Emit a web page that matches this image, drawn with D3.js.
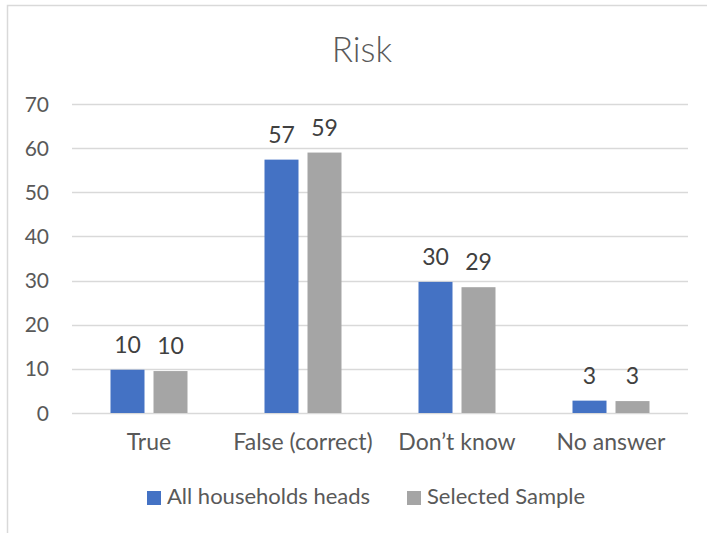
<!DOCTYPE html>
<html>
<head>
<meta charset="utf-8">
<script src="https://cdn.jsdelivr.net/npm/d3@7"></script>
<style>
  body { margin: 0; background: #fff; }
  text { font-family: Lato, "Open Sans", sans-serif; }
</style>
</head>
<body>
<script>
const categories = ["True", "False (correct)", "Don\u2019t know", "No answer"];
const seriesNames = ["All households heads", "Selected Sample"];
const allHeads = [9.8, 57.4, 29.7, 2.8];
const selectedSample = [9.5, 59.0, 28.5, 2.7];
const allHeadsLabels = ["10", "57", "30", "3"];
const selectedLabels = ["10", "59", "29", "3"];
const yTicks = [0, 10, 20, 30, 40, 50, 60, 70];
const colors = ["#4472C4", "#A5A5A5"];

const width = 707, height = 533;
const plot = { left: 72, right: 688, top: 104, bottom: 413 };

const svg = d3.select('body').append('svg')
    .attr('width', width)
    .attr('height', height);

// chart border (top and left visible)
svg.append('path')
    .attr('d', `M7.5 ${height} V5.5 H${width}`)
    .attr('fill', 'none')
    .attr('stroke', '#d9d9d9')
    .attr('stroke-width', 1.5);

svg.append('text')
    .attr('x', 362)
    .attr('y', 62)
    .attr('text-anchor', 'middle')
    .attr('font-size', 35)
    .attr('font-weight', 300)
    .attr('fill', '#595959')
    .text('Risk');

const y = d3.scaleLinear().domain([0, 70]).range([plot.bottom, plot.top]);
const x0 = d3.scaleBand().domain(categories).range([plot.left, plot.right]);
const groupW = 77;
const x1 = d3.scaleBand().domain(seriesNames)
    .range([(x0.bandwidth() - groupW) / 2, (x0.bandwidth() + groupW) / 2])
    .paddingInner(9 / 43);

// gridlines
svg.append('g')
    .selectAll('line')
    .data(yTicks)
    .enter()
    .append('line')
    .attr('x1', plot.left)
    .attr('x2', plot.right)
    .attr('y1', d => Math.round(y(d)) + 0.5)
    .attr('y2', d => Math.round(y(d)) + 0.5)
    .attr('stroke', '#d9d9d9')
    .attr('stroke-width', 1.3);

// y tick labels
svg.append('g')
    .selectAll('text')
    .data(yTicks)
    .enter()
    .append('text')
    .attr('x', 49)
    .attr('y', d => y(d))
    .attr('dy', '0.36em')
    .attr('text-anchor', 'end')
    .attr('font-size', 21)
    .attr('fill', '#595959')
    .text(d => d);

const rows = categories.map((c, i) => ({
    category: c,
    values: [
        { name: seriesNames[0], value: allHeads[i], label: allHeadsLabels[i], color: colors[0] },
        { name: seriesNames[1], value: selectedSample[i], label: selectedLabels[i], color: colors[1] },
    ]
}));

const groups = svg.append('g')
    .selectAll('g')
    .data(rows)
    .enter()
    .append('g')
    .attr('transform', d => `translate(${x0(d.category)},0)`);

groups.selectAll('rect')
    .data(d => d.values)
    .enter()
    .append('rect')
    .attr('x', d => x1(d.name))
    .attr('width', x1.bandwidth())
    .attr('y', d => y(d.value))
    .attr('height', d => y(0) - y(d.value))
    .attr('fill', d => d.color);

groups.selectAll('text')
    .data(d => d.values)
    .enter()
    .append('text')
    .attr('x', d => x1(d.name) + x1.bandwidth() / 2)
    .attr('y', d => y(d.value) - 17)
    .attr('text-anchor', 'middle')
    .attr('font-size', 23)
    .attr('fill', '#404040')
    .text(d => d.label);

// category labels
svg.append('g')
    .selectAll('text')
    .data(categories)
    .enter()
    .append('text')
    .attr('x', d => x0(d) + x0.bandwidth() / 2)
    .attr('y', 450)
    .attr('text-anchor', 'middle')
    .attr('font-size', 23)
    .attr('fill', '#595959')
    .text(d => d);

// legend
const legendX = [147, 407];
const legend = svg.append('g')
    .selectAll('g')
    .data(seriesNames)
    .enter()
    .append('g')
    .attr('transform', (d, i) => `translate(${legendX[i]},491)`);

legend.append('rect')
    .attr('width', 14)
    .attr('height', 14)
    .attr('fill', (d, i) => colors[i]);

legend.append('text')
    .attr('x', 20)
    .attr('y', 13)
    .attr('font-size', 22)
    .attr('fill', '#595959')
    .text(d => d);
</script>
</body>
</html>
